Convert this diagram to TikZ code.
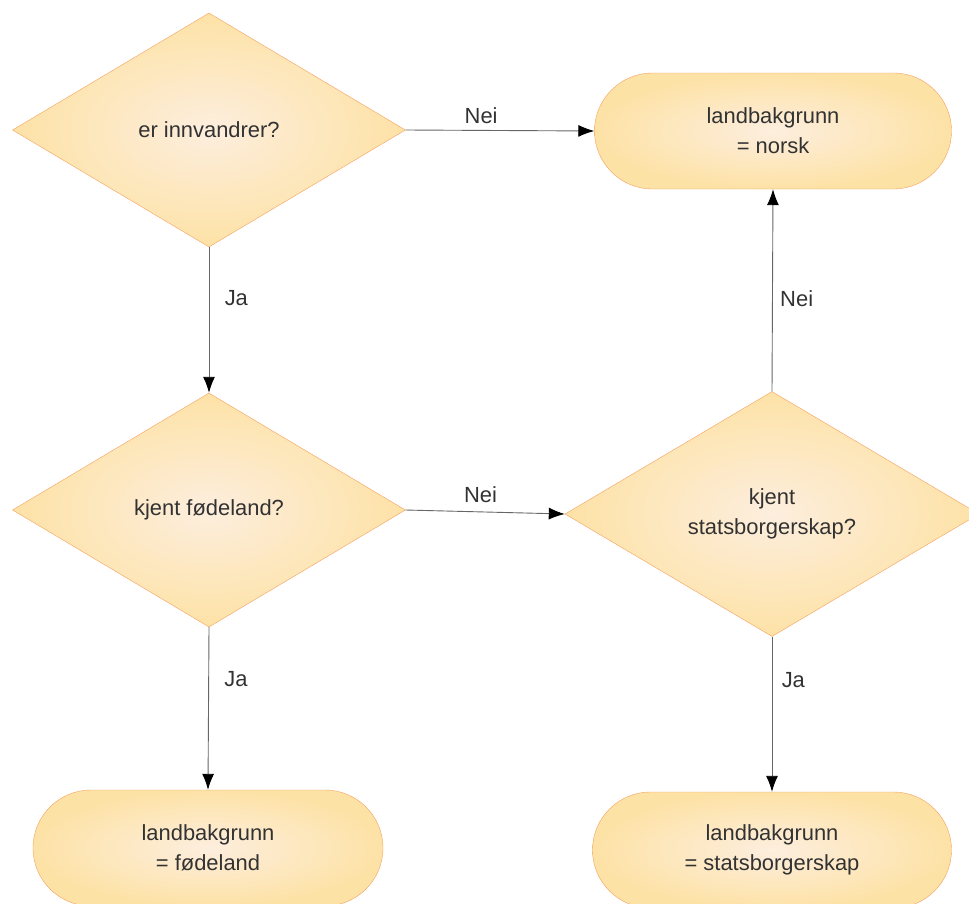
\documentclass[tikz,border=0pt]{standalone}
\usepackage{fontspec}
\setmainfont{Liberation Sans}
\usetikzlibrary{positioning,shapes.geometric,arrows.meta}

\definecolor{boxline}{RGB}{245,160,95}
\definecolor{boxout}{RGB}{253,226,166}
\definecolor{boxin}{RGB}{253,238,222}
\definecolor{txtgray}{RGB}{50,50,50}

\tikzset{
  decision/.style={shape=diamond, draw=boxline, inner color=boxin, outer color=boxout,
    minimum width=393bp, minimum height=234bp, inner sep=0pt, align=center,
    text=txtgray, font=\fontsize{22}{30}\selectfont},
  terminal/.style={rectangle, rounded corners=58bp, draw=boxline, inner color=boxin,
    outer color=boxout, minimum width=357bp, minimum height=116bp, align=center,
    text=txtgray, font=\fontsize{22}{30}\selectfont},
  flow/.style={draw=gray!80!black, line width=0.9bp, -{Latex[length=16bp,width=12bp,black]}},
  lbl/.style={text=txtgray, font=\fontsize{22}{30}\selectfont}
}

\begin{document}
\begin{tikzpicture}[x=1bp,y=-1bp]

\useasboundingbox (0,0) rectangle (969,904);

\node[decision] (innvandrer) at (209,130) {er innvandrer?};
\node[decision] (fodeland) at (209,510) {kjent fødeland?};
\node[decision, minimum width=414bp, minimum height=245bp] (statsb) at (772,514) {kjent\\statsborgerskap?};
\node[terminal] (norsk) at (773,131) {landbakgrunn\\= norsk};
\node[terminal, minimum width=350bp] (bgfodeland) at (208,848) {landbakgrunn\\= fødeland};
\node[terminal, minimum width=359bp] (bgstatsb) at (772,850) {landbakgrunn\\= statsborgerskap};

\draw[flow] (innvandrer.east) -- node[lbl, above=3bp, pos=0.4] {Nei} (norsk.west);
\draw[flow] (innvandrer.south) -- node[lbl, right=12bp, pos=0.35] {Ja} (fodeland.north);
\draw[flow] (fodeland.east) -- node[lbl, above=5bp, pos=0.47] {Nei} (statsb.west);
\draw[flow] (fodeland.south) -- node[lbl, right=12bp, pos=0.32] {Ja} (bgfodeland.north);
\draw[flow] (statsb.north) -- node[lbl, right=4bp, pos=0.46] {Nei} (norsk.south);
\draw[flow] (statsb.south) -- node[lbl, right=6bp, pos=0.28] {Ja} (bgstatsb.north);

\end{tikzpicture}
\end{document}
